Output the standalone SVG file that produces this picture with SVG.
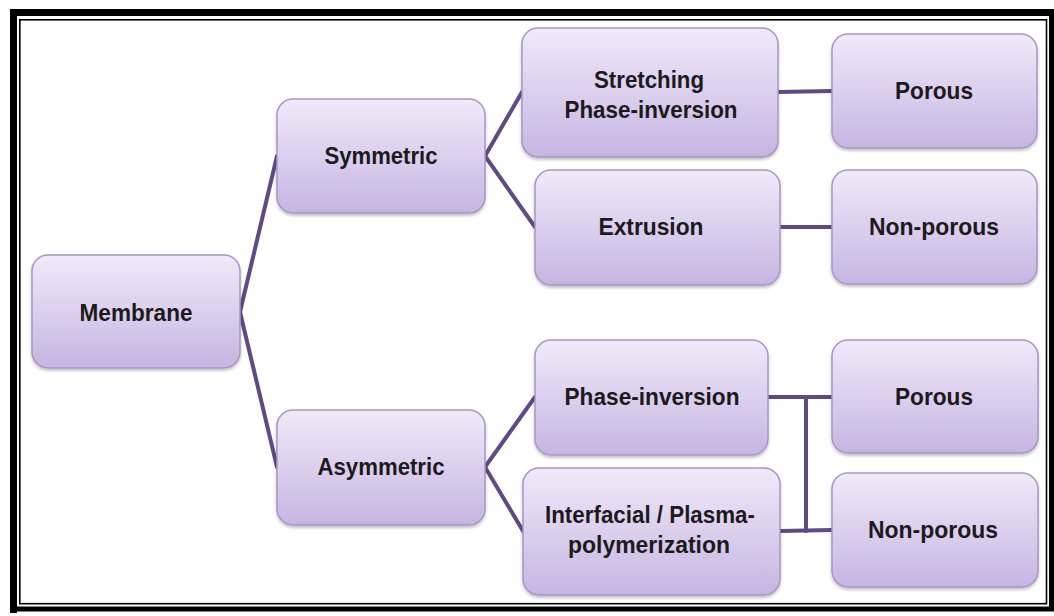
<svg xmlns="http://www.w3.org/2000/svg" width="1054" height="616" viewBox="0 0 1054 616">
<defs>
<linearGradient id="g" x1="0" y1="0" x2="0" y2="1">
<stop offset="0" stop-color="#f0eaf9"/>
<stop offset="1" stop-color="#c7b5e2"/>
</linearGradient>
<filter id="sh" x="-5%" y="-5%" width="110%" height="115%">
<feDropShadow dx="0" dy="2" stdDeviation="1.5" flood-color="#000" flood-opacity="0.25"/>
</filter>
<style>
.box{fill:url(#g);stroke:#a696c6;stroke-width:1.5;filter:url(#sh)}
.t{font-family:"Liberation Sans",Arial,sans-serif;font-weight:bold;font-size:24.5px;fill:#1b1b1b;text-anchor:middle}
.c{stroke:#5f4a86;stroke-width:4;fill:none;stroke-linecap:round;stroke-linejoin:round}
</style>
</defs>
<rect width="1054" height="616" fill="#fff"/>
<g id="frame">
<path d="M13.5 613 V12.5 H1054" fill="none" stroke="#000" stroke-width="7"/>
<path d="M1051.5 12.5 V609 H13.5" fill="none" stroke="#000" stroke-width="5"/>
<rect x="19.8" y="19.8" width="1026.7" height="583.9" fill="none" stroke="#000" stroke-width="1.6"/>
</g>
<g id="connectors">
<polyline class="c" points="277,156 240,312 277,467"/>
<polyline class="c" points="522,92 485,156 535,227"/>
<polyline class="c" points="535,397 485,467 523,531"/>
<line class="c" x1="778" y1="92" x2="832" y2="91"/>
<line class="c" x1="780" y1="227" x2="832" y2="227"/>
<line class="c" x1="768" y1="397" x2="832" y2="397"/>
<line class="c" x1="780" y1="531" x2="832" y2="530"/>
<line class="c" x1="806" y1="397" x2="806" y2="531"/>
</g>
<g id="membrane"><rect class="box" x="32" y="255" width="208" height="113" rx="16"/><text class="t" x="136" y="321" textLength="113" lengthAdjust="spacingAndGlyphs">Membrane</text></g>
<g id="symmetric"><rect class="box" x="277" y="99" width="208" height="114" rx="16"/><text class="t" x="381" y="164" textLength="113" lengthAdjust="spacingAndGlyphs">Symmetric</text></g>
<g id="asymmetric"><rect class="box" x="277" y="410" width="208" height="115" rx="16"/><text class="t" x="381" y="475" textLength="127" lengthAdjust="spacingAndGlyphs">Asymmetric</text></g>
<g id="stretching"><rect class="box" x="522" y="28" width="256" height="129" rx="16"/><text class="t" x="649" y="88" textLength="110" lengthAdjust="spacingAndGlyphs">Stretching</text><text class="t" x="651" y="118" textLength="173" lengthAdjust="spacingAndGlyphs">Phase-inversion</text></g>
<g id="extrusion"><rect class="box" x="535" y="170" width="245" height="115" rx="16"/><text class="t" x="651" y="235" textLength="105" lengthAdjust="spacingAndGlyphs">Extrusion</text></g>
<g id="porous1"><rect class="box" x="832" y="34" width="205" height="114" rx="16"/><text class="t" x="934" y="99" textLength="78" lengthAdjust="spacingAndGlyphs">Porous</text></g>
<g id="nonporous1"><rect class="box" x="832" y="170" width="205" height="114" rx="16"/><text class="t" x="934" y="235" textLength="130" lengthAdjust="spacingAndGlyphs">Non-porous</text></g>
<g id="phaseinversion"><rect class="box" x="535" y="340" width="233" height="115" rx="16"/><text class="t" x="652" y="405" textLength="175" lengthAdjust="spacingAndGlyphs">Phase-inversion</text></g>
<g id="interfacial"><rect class="box" x="523" y="468" width="257" height="127" rx="16"/><text class="t" x="650" y="523" textLength="210" lengthAdjust="spacingAndGlyphs">Interfacial / Plasma-</text><text class="t" x="649" y="553" textLength="162" lengthAdjust="spacingAndGlyphs">polymerization</text></g>
<g id="porous2"><rect class="box" x="832" y="340" width="206" height="113" rx="16"/><text class="t" x="934" y="405" textLength="78" lengthAdjust="spacingAndGlyphs">Porous</text></g>
<g id="nonporous2"><rect class="box" x="832" y="473" width="206" height="114" rx="16"/><text class="t" x="933" y="538" textLength="130" lengthAdjust="spacingAndGlyphs">Non-porous</text></g>
</svg>
